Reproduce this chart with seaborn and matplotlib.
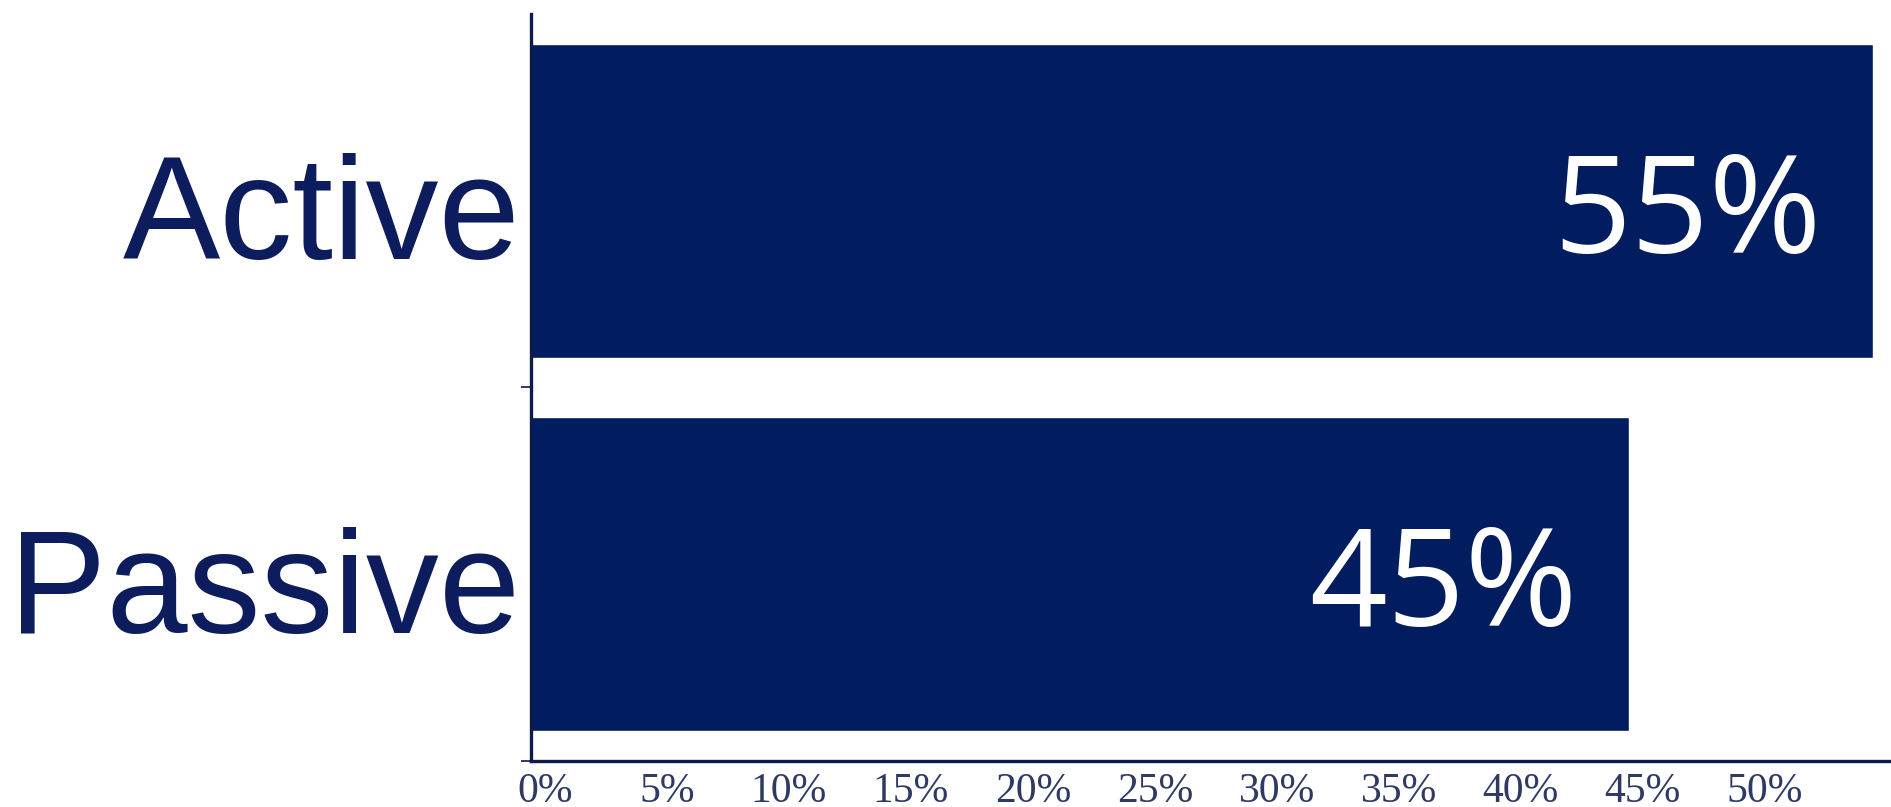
import matplotlib.pyplot as plt
import matplotlib.transforms as mtransforms
import pandas as pd
import seaborn as sns

# ----- data -----
categories = ["Active", "Passive"]
shares = [55, 45]
value_labels = ["55%", "45%"]
x_ticks = [0, 5, 10, 15, 20, 25, 30, 35, 40, 45, 50]
x_tick_labels = [f"{t}%" for t in x_ticks]

NAVY = "#021d5f"
TEXT_NAVY = "#0d1c5c"
TICK_GREY = "#2f3a64"
SPINE = "#0d1a4a"

sns.set_theme(style="white")
plt.rcParams["font.family"] = ["Liberation Sans", "DejaVu Sans"]

df = pd.DataFrame({"category": categories, "share": shares})

fig = plt.figure(figsize=(18.91, 8.07), dpi=100)
ax = fig.add_axes([0.2808, 0.057, 0.7192, 0.9257])

sns.barplot(
    data=df,
    x="share",
    y="category",
    orient="h",
    color=NAVY,
    saturation=1,
    width=0.84,
    ax=ax,
)

ax.set_xlim(0, 55.75)
ax.set_ylim(1.5, -0.5)
ax.set_xlabel("")
ax.set_ylabel("")

# x axis: serif percent ticks
ax.set_xticks(x_ticks, labels=x_tick_labels)
ax.tick_params(
    axis="x", direction="out", length=7, width=1.2,
    color=TICK_GREY, labelsize=30, labelcolor=TICK_GREY, pad=1,
)
x_shift = mtransforms.ScaledTranslation(10 / 72, 0, fig.dpi_scale_trans)
for tl in ax.get_xticklabels():
    tl.set_fontfamily(["Liberation Serif", "DejaVu Serif"])
    tl.set_transform(tl.get_transform() + x_shift)

# y axis: category names, with ticks sitting between bars
ax.set_yticks([0, 1], labels=categories)
ax.tick_params(axis="y", which="major", length=0, labelsize=105,
               labelcolor=TEXT_NAVY, pad=8)
ax.set_yticks([0.5, 1.5], minor=True)
ax.tick_params(axis="y", which="minor", left=True, direction="out",
               length=7, width=1.2, color=SPINE)
y_shift = mtransforms.ScaledTranslation(0, -4 / 72, fig.dpi_scale_trans)
for tl in ax.get_yticklabels():
    tl.set_transform(tl.get_transform() + y_shift)

sns.despine(ax=ax)
for side in ["left", "bottom"]:
    ax.spines[side].set_color(SPINE)
    ax.spines[side].set_linewidth(2.4)

# value labels inside the bar ends
for i, (val, lab) in enumerate(zip(shares, value_labels)):
    ax.annotate(
        lab, xy=(val, i), xytext=(-37, -12), textcoords="offset points",
        ha="right", va="center", color="white", fontsize=98,
        fontfamily=["Open Sans", "DejaVu Sans"],
    )

fig.savefig("out.png", dpi=100, facecolor="white")
